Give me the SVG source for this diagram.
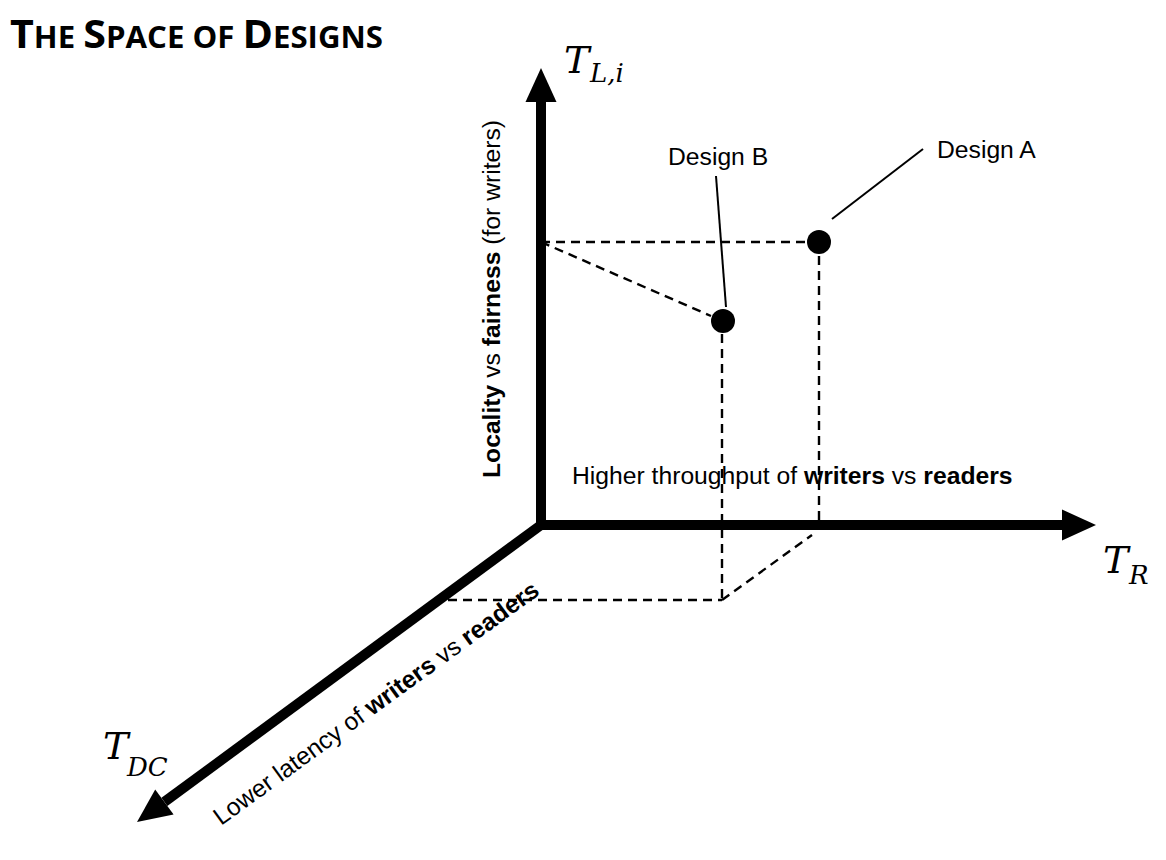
<svg xmlns="http://www.w3.org/2000/svg" width="1166" height="860" viewBox="0 0 1166 860">
<style>
.axis{stroke:#000;stroke-width:10;fill:none}
.dash{stroke:#000;stroke-width:2.4;stroke-dasharray:9 6;fill:none}
.lead{stroke:#000;stroke-width:2;fill:none}
.lbl{font-family:"Liberation Sans",Arial,sans-serif;font-size:24.7px;fill:#000}
.b{font-weight:bold}
.math{font-family:"DejaVu Serif","Liberation Serif",serif;font-style:italic;fill:#000}
.title{font-family:"Open Sans","Liberation Sans",sans-serif;font-weight:700;fill:#000}
</style>
<defs>
<marker id="ah" markerUnits="userSpaceOnUse" viewBox="0 -16 34 32" markerWidth="34" markerHeight="32" refX="0" refY="0" orient="auto" overflow="visible">
<path d="M0,-15.5 L34,0 L0,15.5 Z" fill="#000"/>
</marker>
</defs>
<rect width="1166" height="860" fill="#fff"/>
<g id="title">
<text class="title" x="10" y="48" textLength="373" lengthAdjust="spacingAndGlyphs"><tspan font-size="39">T</tspan><tspan font-size="29.5">HE </tspan><tspan font-size="39">S</tspan><tspan font-size="29.5">PACE OF </tspan><tspan font-size="39">D</tspan><tspan font-size="29.5">ESIGNS</tspan></text>
</g>
<g id="connectors">
<line class="dash" x1="541" y1="242" x2="807" y2="242"/>
<line class="dash" x1="541" y1="242" x2="711" y2="316"/>
<line class="dash" x1="819" y1="256" x2="819" y2="525"/>
<line class="dash" x1="722" y1="334" x2="722" y2="600"/>
<line class="dash" x1="448" y1="600" x2="722" y2="600"/>
<line class="dash" x1="722" y1="600" x2="812" y2="535"/>
<line class="lead" x1="832" y1="219" x2="923" y2="149"/>
<line class="lead" x1="716" y1="176" x2="726" y2="307"/>
</g>
<g id="axis-TL">
<line class="axis" x1="541" y1="530" x2="541" y2="102" marker-end="url(#ah)"/>
<text class="math" x="564" y="73" font-size="38">T</text>
<text class="math" x="590" y="82" font-size="26">L,i</text>
<text class="lbl" transform="translate(500,478) rotate(-90)"><tspan class="b">Locality</tspan> vs <tspan class="b">fairness</tspan> (for writers)</text>
</g>
<g id="axis-TR">
<line class="axis" x1="536" y1="525" x2="1062" y2="525" marker-end="url(#ah)"/>
<text class="math" x="1103" y="573" font-size="38">T</text>
<text class="math" x="1129" y="584" font-size="26">R</text>
<text class="lbl" x="572" y="484">Higher throughput of <tspan class="b">writers</tspan> vs <tspan class="b">readers</tspan></text>
</g>
<g id="axis-TDC">
<line class="axis" x1="541" y1="525" x2="164.4" y2="801.9" marker-end="url(#ah)"/>
<text class="math" x="103" y="759" font-size="38">T</text>
<text class="math" x="127" y="776" font-size="26">DC</text>
<text class="lbl" transform="translate(221,826) rotate(-36)">Lower latency of <tspan class="b">writers</tspan> vs <tspan class="b">readers</tspan></text>
</g>
<g id="designA">
<circle cx="819" cy="242" r="12" fill="#000"/>
<text class="lbl" x="937" y="158">Design A</text>
</g>
<g id="designB">
<circle cx="723" cy="321" r="12" fill="#000"/>
<text class="lbl" x="668" y="165">Design B</text>
</g>
</svg>
